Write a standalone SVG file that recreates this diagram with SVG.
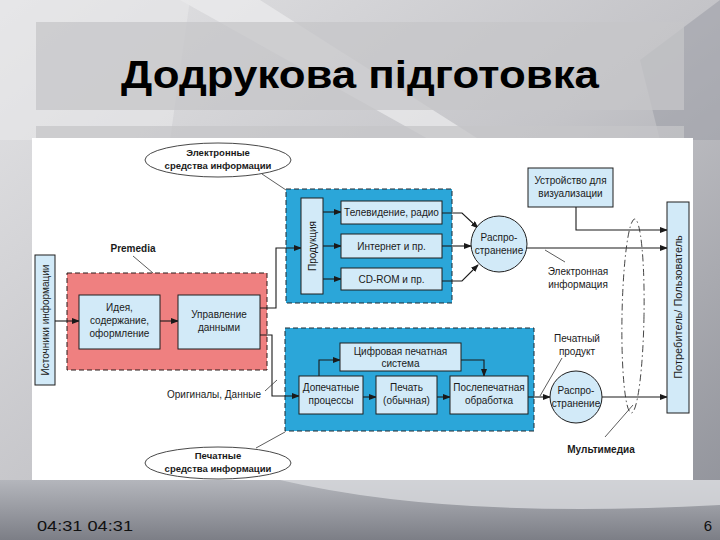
<svg xmlns="http://www.w3.org/2000/svg" width="720" height="540" viewBox="0 0 720 540">
<defs>
<linearGradient id="bg" x1="0" y1="0" x2="1" y2="1">
<stop offset="0" stop-color="#e4e4e6"/>
<stop offset="0.5" stop-color="#c4c4c8"/>
<stop offset="1" stop-color="#8e9098"/>
</linearGradient>
<linearGradient id="foot" x1="0" y1="0" x2="0" y2="1">
<stop offset="0" stop-color="#b4b6bc"/>
<stop offset="1" stop-color="#7c7e86"/>
</linearGradient>
<marker id="ah" markerWidth="8" markerHeight="6" refX="7" refY="3" orient="auto" markerUnits="userSpaceOnUse">
<path d="M0,0 L8,3 L0,6 Z" fill="#1a1a1a"/>
</marker>
<style>
.t{font-family:"Liberation Sans","DejaVu Sans",sans-serif;font-size:10px;fill:#1a1a1a;text-anchor:middle}
.b{font-weight:bold}
.lb{fill:#d2eaf8;stroke:#1f1f1f;stroke-width:1}
.blue{fill:#2ba6d9;stroke:#1f2a33;stroke-width:1;stroke-dasharray:5,3}
.pink{fill:#ef8080;stroke:#2a1a1a;stroke-width:1;stroke-dasharray:5,3}
.c{fill:none;stroke:#1a1a1a;stroke-width:1.1}
.a{marker-end:url(#ah)}
.ld{fill:none;stroke:#333;stroke-width:0.8}
.ell{fill:#fff;stroke:#333;stroke-width:0.9}
.et{font-size:9.5px;font-weight:bold}
</style>
</defs>
<rect x="0" y="0" width="720" height="540" fill="url(#bg)"/>
<polygon points="180,0 260,0 480,140 430,140" fill="#ececee" opacity="0.7"/>
<polygon points="0,0 190,0 170,140 0,140" fill="#e8e8ea" opacity="0.6"/>
<polygon points="640,60 720,0 720,140 660,140" fill="#9ea0a8" opacity="0.6"/>
<path d="M0,480 H720 V540 H0 Z" fill="url(#foot)"/>
<path d="M280,480 Q450,520 720,505 V480 Z" fill="#d8d9dd" opacity="0.8"/>
<rect x="36" y="22" width="648" height="88" fill="#c6c6c8" opacity="0.75"/>
<rect x="36" y="126" width="648" height="14" fill="#c6c6c8" opacity="0.75"/>
<text x="360" y="88" style="font-family:'Liberation Sans',Arial,sans-serif;font-size:38px;font-weight:bold;fill:#000;text-anchor:middle" textLength="478" lengthAdjust="spacingAndGlyphs">Додрукова підготовка</text>
<rect x="32" y="138" width="661" height="342" fill="#ffffff"/>
<text x="37" y="531" style="font-family:'Liberation Sans',Arial,sans-serif;font-size:15px;fill:#111" textLength="96" lengthAdjust="spacingAndGlyphs">04:31 04:31</text>
<text x="712" y="531" style="font-family:'Liberation Sans',Arial,sans-serif;font-size:15px;fill:#111;text-anchor:end">6</text>

<g id="region-premedia"><rect class="pink" x="67" y="273" width="200" height="97"/></g>
<g id="region-electronic"><rect class="blue" x="286" y="189" width="166" height="114"/></g>
<g id="region-print"><rect class="blue" x="285" y="328" width="249" height="103"/></g>

<g id="connectors">
<path class="c a" d="M55,321 H79"/>
<path class="c a" d="M160,321 H178"/>
<path class="c a" d="M260,308 H276 V248 H301"/>
<path class="c a" d="M260,335 H272 V396 H299"/>
<path class="c a" d="M323,212 H341"/>
<path class="c a" d="M323,246 H341"/>
<path class="c a" d="M323,279 H341"/>
<path class="c a" d="M442,213 H462 L478,228"/>
<path class="c a" d="M442,246 H471"/>
<path class="c a" d="M442,281 H462 L478,265"/>
<path class="c a" d="M527,248 H667"/>
<path class="c a" d="M576,207 V230 H667"/>
<path class="c a" d="M319,376 V360 H340"/>
<path class="c a" d="M461,360 H484 V376"/>
<path class="c a" d="M363,397 H376"/>
<path class="c a" d="M437,397 H450"/>
<path class="c a" d="M528,397 H550"/>
<path class="c a" d="M602,397 H667"/>
<path class="ld" d="M133,256 L153,273"/>
<path class="ld" d="M545,250 L565,262"/>
<path class="ld" d="M562,358 L540,396"/>
<path class="ld" d="M605,437 L633,405"/>
<path class="ld" d="M265,391 L277,380"/>
<path class="ld" d="M262,174 L286,190"/>
<path class="ld" d="M256,448 L285,432"/>
<ellipse cx="633" cy="316" rx="11" ry="97" fill="none" stroke="#333" stroke-width="0.9" stroke-dasharray="7,3,1.5,3" transform="rotate(1 633 316)"/>
</g>

<g id="n-sources"><rect class="lb" x="35" y="255" width="20" height="130"/><text class="t" transform="translate(48.5 320) rotate(-90)">Источники информации</text></g>
<g id="n-idea"><rect class="lb" x="79" y="295" width="81" height="54"/><text class="t" x="119.5" y="311">Идея,</text><text class="t" x="119.5" y="324">содержание,</text><text class="t" x="119.5" y="337">оформление</text></g>
<g id="n-data"><rect class="lb" x="178" y="295" width="82" height="54"/><text class="t" x="219" y="318">Управление</text><text class="t" x="219" y="331">данными</text></g>
<g id="n-premedia-label"><text class="t b" x="133" y="252">Premedia</text></g>
<g id="n-production"><rect class="lb" x="301" y="198" width="22" height="96"/><text class="t" transform="translate(315.5 246) rotate(-90)">Продукция</text></g>
<g id="n-tv"><rect class="lb" x="341" y="201" width="101" height="23"/><text class="t" x="391.5" y="216">Телевидение, радио</text></g>
<g id="n-internet"><rect class="lb" x="341" y="234" width="101" height="24"/><text class="t" x="391.5" y="250">Интернет и пр.</text></g>
<g id="n-cdrom"><rect class="lb" x="341" y="268" width="101" height="22"/><text class="t" x="391.5" y="283">CD-ROM и пр.</text></g>
<g id="n-dist1"><circle class="lb" cx="499" cy="244" r="28"/><text class="t" x="499" y="241">Распро-</text><text class="t" x="499" y="254">странение</text></g>
<g id="n-visual"><rect class="lb" x="528" y="168" width="85" height="39"/><text class="t" x="570.5" y="184">Устройство для</text><text class="t" x="570.5" y="197">визуализации</text></g>
<g id="n-elinfo"><text class="t" x="578" y="275">Электронная</text><text class="t" x="578" y="288">информация</text></g>
<g id="n-consumer"><rect class="lb" x="667" y="202" width="22" height="211"/><text class="t" style="font-size:11px" transform="translate(682 307) rotate(-90)">Потребитель/ Пользователь</text></g>
<g id="n-digital"><rect class="lb" x="340" y="343" width="121" height="28"/><text class="t" x="400.5" y="355">Цифровая печатная</text><text class="t" x="400.5" y="367">система</text></g>
<g id="n-prepress"><rect class="lb" x="299" y="376" width="64" height="38"/><text class="t" x="331" y="391">Допечатные</text><text class="t" x="331" y="404">процессы</text></g>
<g id="n-print"><rect class="lb" x="376" y="376" width="61" height="38"/><text class="t" x="406.5" y="391">Печать</text><text class="t" x="406.5" y="404">(обычная)</text></g>
<g id="n-postpress"><rect class="lb" x="450" y="376" width="78" height="38"/><text class="t" x="489" y="391">Послепечатная</text><text class="t" x="489" y="404">обработка</text></g>
<g id="n-dist2"><circle class="lb" cx="576" cy="397" r="26"/><text class="t" x="576" y="394">Распро-</text><text class="t" x="576" y="407">странение</text></g>
<g id="n-printprod"><text class="t" x="577" y="342">Печатный</text><text class="t" x="577" y="355">продукт</text></g>
<g id="n-multimedia"><text class="t b" x="601" y="453">Мультимедиа</text></g>
<g id="n-originals"><text class="t" x="214" y="398">Оригиналы, Данные</text></g>
<g id="n-el-media"><ellipse class="ell" cx="218" cy="160" rx="73" ry="17"/><text class="t et" x="218" y="156">Электронные</text><text class="t et" x="218" y="169">средства информации</text></g>
<g id="n-print-media"><ellipse class="ell" cx="218" cy="463" rx="73" ry="16"/><text class="t et" x="218" y="459">Печатные</text><text class="t et" x="218" y="472">средства информации</text></g>
</svg>
